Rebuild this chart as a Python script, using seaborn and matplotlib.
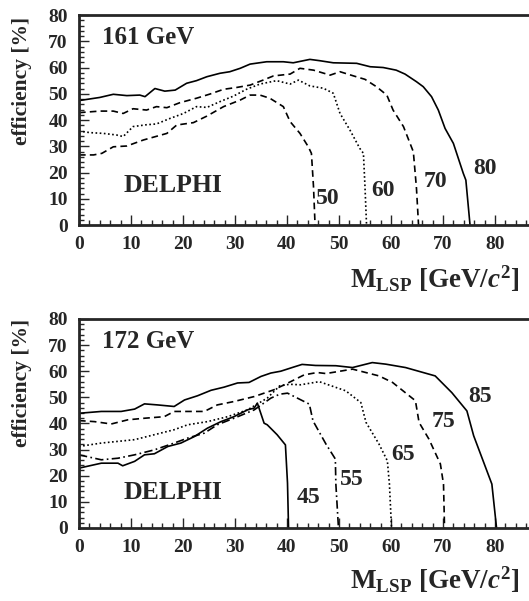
import numpy as np
import pandas as pd
import seaborn as sns
import matplotlib.pyplot as plt
from matplotlib.ticker import MultipleLocator, FixedLocator

# ---- data ----
# 161 GeV panel
m80_x = [0, 4, 6.6, 9.2, 11.7, 12.7, 14.6, 16.5, 18.5, 20.7, 22.6, 24.6, 27.1, 29, 31, 32.9, 36.1, 39.3,
         41.2, 44.4, 46.3, 48.9, 53.4, 56, 58.5, 61, 62.7, 64.9, 66.2, 67.8, 69.1, 70.4, 72, 73.9, 74.4, 75.2]
m80_y = [47.4, 48.6, 49.8, 49.3, 49.5, 48.9, 52, 51, 51.4, 54, 55, 56.5, 57.8, 58.4, 59.7, 61.3, 62.2, 62.2,
         61.8, 63.1, 62.6, 61.8, 61.6, 60.3, 60, 59, 57.5, 54.6, 52.7, 48.9, 43.8, 36.8, 31.1, 19.7, 17.1, 0]
m70_x = [0, 4, 6.6, 8.5, 10.4, 13, 14.9, 16.9, 19.4, 22.6, 25.2, 27.8, 30.3, 32.9, 35.4, 37.4, 40.6, 42.5,
         45.1, 48.3, 50.2, 52.8, 55, 57.2, 59.2, 60.4, 62.4, 64.3, 64.9, 65.3]
m70_y = [42.8, 43.4, 43.4, 42.5, 44.3, 43.8, 45.1, 44.7, 46.6, 48.3, 49.9, 51.7, 52.4, 53.3, 55.2, 56.8, 57.5,
         59.7, 59, 57.1, 58.4, 56.8, 55.5, 52.7, 49.5, 43.8, 37.5, 27.9, 14, 0]
m60_x = [0, 2.1, 4.7, 7.2, 8.5, 10.4, 13, 14.9, 17.5, 20.1, 22.6, 24.6, 27.1, 29.7, 32.2, 34.8, 38, 40.6,
         42.2, 44.4, 47, 48.9, 50.2, 52.1, 54, 54.7, 55, 55.3]
m60_y = [35.8, 35.2, 34.9, 34.3, 33.7, 37.5, 38.2, 38.5, 40.6, 42.5, 45.1, 44.8, 47, 49.1, 51.7, 53.7, 55,
         53.7, 55.2, 53, 52.1, 50.2, 42.5, 36.2, 29.2, 27.3, 14.6, 0]
m50_x = [0, 2.8, 4.4, 6.6, 9.2, 12.4, 16.9, 18.8, 22, 24.6, 27.8, 31, 32.9, 34.8, 36.7, 39.3, 40.6, 42.5,
         44.1, 44.7, 45.1, 45.4]
m50_y = [26.7, 26.7, 27.3, 29.8, 30.1, 32.4, 34.9, 38.1, 39, 41.5, 45.1, 47.6, 49.5, 49.5, 48.3, 45.1, 39.4,
         34.9, 29.8, 27.3, 14.6, 0]

# 172 GeV panel
m85_x = [0, 4.3, 8.1, 10.7, 12.6, 15.1, 18.3, 20.3, 22.8, 25.4, 27.9, 30.5, 32.7, 35, 36.9, 38.8, 41.3,
         42.9, 45.5, 49.4, 52.6, 56.4, 59, 62.8, 68.5, 71.7, 74.6, 75.9, 79.4, 80.3]
m85_y = [43.9, 44.6, 44.6, 45.5, 47.5, 47.1, 46.5, 49, 50.6, 52.7, 53.9, 55.5, 55.7, 58, 59.3, 60, 61.6,
         62.6, 62.2, 62.1, 61.4, 63.3, 62.7, 61.4, 58.2, 51.8, 44.8, 35.3, 16.8, 0]
m75_x = [0, 3, 6.2, 9.4, 12.6, 16.4, 18.3, 24.1, 26.6, 29.8, 33.7, 37.5, 40.1, 43.3, 45.8, 47.5, 52.6,
         57.7, 60.3, 64.7, 65.4, 67.3, 69.5, 70.1, 70.3]
m75_y = [41.1, 40.7, 39.8, 41.4, 42, 42.6, 44.6, 44.6, 47.1, 48.4, 50.3, 52.9, 55.4, 58.6, 59.5, 59.1,
         60.8, 58.2, 55.7, 48.7, 40.4, 34, 24.5, 16.8, 0]
m65_x = [0, 4.3, 10.7, 14.5, 18.3, 20.9, 24.7, 28.6, 32.4, 36.2, 38.6, 40.5, 42.6, 46.2, 51.3, 54.2, 55.2,
         57.7, 59.3, 59.7, 60.1]
m65_y = [31.2, 32.5, 33.8, 35.7, 37.6, 39.5, 40.7, 42.6, 45.2, 49.7, 54.4, 55, 54.8, 56, 52.5, 48, 40.4,
         32.1, 25.7, 16.8, 0]
m55_x = [0, 4.3, 7.5, 10.7, 14.5, 18.3, 20.9, 24.1, 26.6, 29.8, 33.7, 36.9, 38.6, 40.1, 44.3, 45, 47.5,
         49.3, 49.4, 49.9]
m55_y = [28, 26.1, 26.7, 28, 29.9, 32.5, 34.4, 36.3, 39.5, 42, 45.2, 49.7, 51.2, 51.6, 47.4, 41, 32.1,
         26.4, 16.8, 0]
m45_x = [0, 4.3, 7.5, 8.4, 10.7, 12.6, 14.5, 17.1, 19.6, 22.2, 24.7, 27.3, 29.8, 32.4, 33.7, 34.3, 35.6,
         36.2, 38.1, 39.7, 40.1, 40.3]
m45_y = [22.9, 24.8, 24.8, 23.8, 25.5, 28, 28.4, 31.2, 32.5, 35, 38.2, 40.7, 42.6, 45.2, 45.9, 47.8, 40.1,
         39.5, 35.7, 31.8, 17.2, 0]

top_curves = [("80", m80_x, m80_y, "-"), ("70", m70_x, m70_y, "--"),
              ("60", m60_x, m60_y, ":"), ("50", m50_x, m50_y, "--")]
bot_curves = [("85", m85_x, m85_y, "-"), ("75", m75_x, m75_y, "--"), ("65", m65_x, m65_y, ":"),
              ("55", m55_x, m55_y, "-."), ("45", m45_x, m45_y, "-")]

top_labels = {"50": (47.9, 10.2), "60": (58.5, 13.3), "70": (68.5, 16.5), "80": (78.1, 21.6)}
bot_labels = {"45": (44.1, 11.5), "55": (52.4, 18.5), "65": (62.4, 28.0), "75": (70.1, 40.8), "85": (77.1, 50.3)}

sns.set_style("ticks")
plt.rcParams['font.family'] = ['Liberation Serif', 'DejaVu Serif']
plt.rcParams['font.weight'] = 'bold'
plt.rcParams['mathtext.fontset'] = 'custom'
plt.rcParams['mathtext.rm'] = 'Liberation Serif:bold'
plt.rcParams['mathtext.it'] = 'Liberation Serif:bold:italic'
plt.rcParams['mathtext.bf'] = 'Liberation Serif:bold'

dash_map = {"-": "", "--": (4, 2.5), ":": (1, 1.5), "-.": (5, 2, 1, 2)}

fig = plt.figure(figsize=(5.29, 6.01), dpi=100)
ax_top = fig.add_axes([0.1493, 0.6256, 0.8847, 0.3494])
ax_bot = fig.add_axes([0.1493, 0.1215, 0.8847, 0.3478])


def draw_panel(ax, curves, labels, energy, xlab_y, ylab_y):
    for name, xs, ys, ls in curves:
        df = pd.DataFrame({"m": xs, "eff": ys})
        sns.lineplot(data=df, x="m", y="eff", ax=ax, color="black", lw=1.2,
                     sort=False, estimator=None)
        l = ax.lines[-1]
        if ls != "-":
            l.set_dashes(dash_map[ls])
        lx, ly = labels[name]
        ax.text(lx, ly, name, fontsize=17, fontweight='bold', ha='center', va='center')
    ax.set_xlim(0, 90)
    ax.set_ylim(0, 80)
    ax.xaxis.set_major_locator(FixedLocator(np.arange(0, 81, 10)))
    ax.xaxis.set_minor_locator(MultipleLocator(2))
    ax.yaxis.set_major_locator(MultipleLocator(10))
    ax.yaxis.set_minor_locator(MultipleLocator(2))
    ax.tick_params(which='both', direction='in', top=False, right=False, width=1.0)
    ax.tick_params(which='major', length=7, labelsize=14, pad=8)
    ax.tick_params(which='minor', length=3.5)
    for lab in ax.get_xticklabels() + ax.get_yticklabels():
        lab.set_fontweight('bold')
    for s in ax.spines.values():
        s.set_linewidth(2)
    ax.spines['right'].set_visible(False)
    ax.set_xlabel("")
    ax.set_ylabel("")
    ax.text(4.4, 71.5, energy, fontsize=18, fontweight='bold', ha='left', va='center')
    ax.text(18, 15.2 if energy.startswith("161") else 13.4, "DELPHI", fontsize=18.5,
            fontweight='bold', ha='center', va='center')
    fig.text(0.983, xlab_y, r'M$_{\mathrm{LSP}}$ [GeV/$c^2$]', fontsize=19.5, fontweight='bold',
             ha='right', va='center')
    fig.text(0.042, ylab_y, 'efficiency [%]', fontsize=15.5, fontweight='bold', rotation=90,
             ha='center', va='center')


draw_panel(ax_top, top_curves, top_labels, "161 GeV", 0.536, 0.865)
draw_panel(ax_bot, bot_curves, bot_labels, "172 GeV", 0.036, 0.363)

fig.savefig("out.png", dpi=100)
